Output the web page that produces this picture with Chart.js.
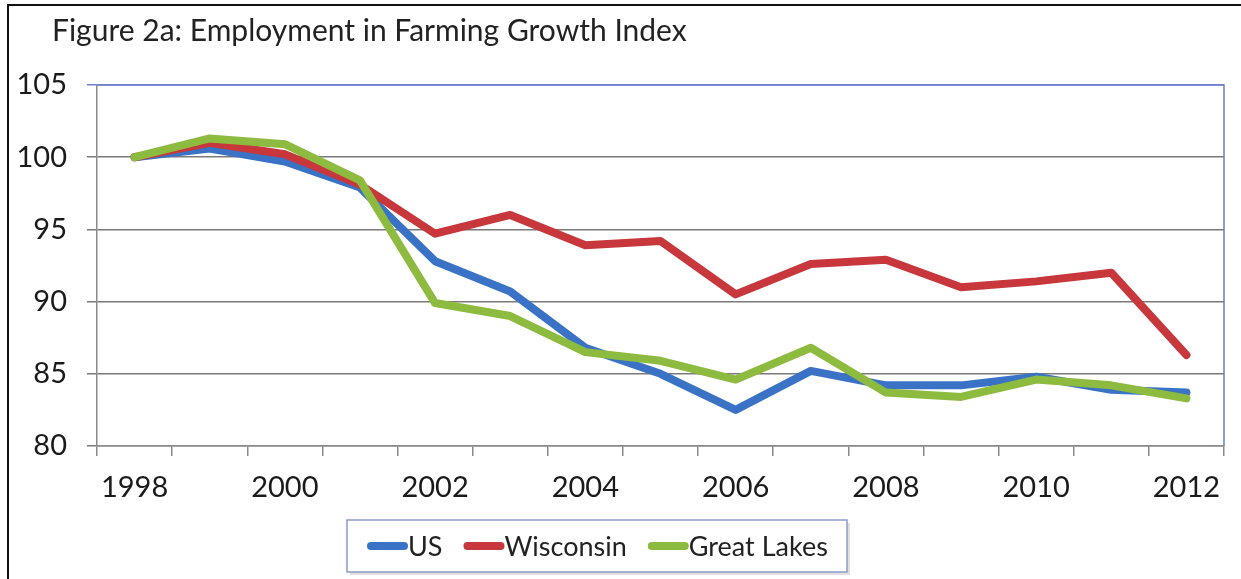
<!DOCTYPE html>
<html>
<head>
<meta charset="utf-8">
<script src="https://cdn.jsdelivr.net/npm/chart.js@4/dist/chart.umd.min.js"></script>
<style>
html,body{margin:0;padding:0;background:#fff;}
#wrap{width:1241px;height:579px;position:relative;}
</style>
</head>
<body>
<div id="wrap"><canvas id="c" width="1241" height="579"></canvas></div>
<script>
const chartTitle = 'Figure 2a: Employment in Farming Growth Index';
const years = ['1998','1999','2000','2001','2002','2003','2004','2005','2006','2007','2008','2009','2010','2011','2012'];
const usValues = [100, 100.6, 99.7, 97.9, 92.8, 90.7, 86.8, 85.0, 82.5, 85.2, 84.2, 84.2, 84.8, 83.9, 83.7];
const wisconsinValues = [100, 101.0, 100.2, 98.1, 94.7, 96.0, 93.9, 94.2, 90.5, 92.6, 92.9, 91.0, 91.4, 92.0, 86.3];
const greatLakesValues = [100, 101.3, 100.9, 98.4, 89.9, 89.0, 86.5, 85.9, 84.6, 86.8, 83.7, 83.4, 84.6, 84.2, 83.3];
const seriesNames = ['US', 'Wisconsin', 'Great Lakes'];
const yTicks = [80, 85, 90, 95, 100, 105];

const FONT = 'Lato, "Open Sans", sans-serif';
const colors = ['#3A73C6', '#C7373B', '#8DBB3F'];

const framePlugin = {
  id: 'frame',
  beforeDraw(chart) {
    const ctx = chart.ctx;
    ctx.save();
    ctx.fillStyle = '#fff';
    ctx.fillRect(0, 0, chart.width, chart.height);
    ctx.restore();
  },
  afterDraw(chart) {
    const ctx = chart.ctx;
    const a = chart.chartArea;
    ctx.save();
    ctx.strokeStyle = '#6F7FCC';
    ctx.lineWidth = 1.5;
    ctx.beginPath();
    ctx.moveTo(a.left, a.top);
    ctx.lineTo(a.right, a.top);
    ctx.lineTo(a.right, a.bottom);
    ctx.stroke();
    ctx.strokeStyle = '#111';
    ctx.lineWidth = 2;
    ctx.beginPath();
    ctx.moveTo(8, chart.height);
    ctx.lineTo(8, 5);
    ctx.lineTo(chart.width, 5);
    ctx.stroke();
    ctx.fillStyle = '#222';
    ctx.font = '30px ' + FONT;
    ctx.textBaseline = 'alphabetic';
    ctx.textAlign = 'left';
    ctx.fillText(chartTitle, 52, 41);
    const bx = 347, by = 520, bw = 500, bh = 52;
    ctx.fillStyle = 'rgba(0,0,0,0.12)';
    ctx.fillRect(bx + 3, by + 3, bw, bh);
    ctx.fillStyle = '#fff';
    ctx.fillRect(bx, by, bw, bh);
    ctx.strokeStyle = '#8A9CC8';
    ctx.lineWidth = 1.5;
    ctx.strokeRect(bx, by, bw, bh);
    ctx.font = '27px ' + FONT;
    ctx.textBaseline = 'middle';
    let x = 368;
    const cy = by + bh / 2;
    chart.data.datasets.forEach((ds) => {
      ctx.strokeStyle = ds.borderColor;
      ctx.lineWidth = 8;
      ctx.lineCap = 'round';
      ctx.beginPath();
      ctx.moveTo(x + 3, cy);
      ctx.lineTo(x + 36, cy);
      ctx.stroke();
      ctx.fillStyle = '#222';
      ctx.fillText(ds.label, x + 40, cy + 1);
      x += 40 + ctx.measureText(ds.label).width + 22;
    });
    ctx.restore();
  }
};

new Chart(document.getElementById('c'), {
  type: 'line',
  data: {
    labels: years,
    datasets: [
      { label: seriesNames[0], data: usValues, borderColor: colors[0], backgroundColor: colors[0], order: 3 },
      { label: seriesNames[1], data: wisconsinValues, borderColor: colors[1], backgroundColor: colors[1], order: 2 },
      { label: seriesNames[2], data: greatLakesValues, borderColor: colors[2], backgroundColor: colors[2], order: 1 }
    ]
  },
  options: {
    responsive: false,
    animation: false,
    devicePixelRatio: 1,
    layout: { padding: { left: 0, top: 85, right: 17, bottom: 73 } },
    elements: {
      line: { borderWidth: 8, tension: 0, borderCapStyle: 'round', borderJoinStyle: 'round', fill: false },
      point: { radius: 0, hoverRadius: 0 }
    },
    plugins: {
      legend: { display: false },
      title: { display: false },
      tooltip: { enabled: false }
    },
    scales: {
      x: {
        type: 'category',
        offset: true,
        afterFit(s) { s.height = 60; },
        grid: { offset: true, drawOnChartArea: false, drawTicks: true, tickLength: 10, color: '#8A8A8A', lineWidth: 1.5 },
        border: { display: true, color: '#8A8A8A', width: 1.5 },
        ticks: {
          autoSkip: false, maxRotation: 0, minRotation: 0, padding: 14,
          color: '#1a1a1a', font: { family: FONT, size: 29 },
          callback(v, i) { return i % 2 === 0 ? years[i] : ''; }
        }
      },
      y: {
        min: yTicks[0], max: yTicks[yTicks.length - 1],
        afterFit(s) { s.width = 97; },
        afterBuildTicks(s) { s.ticks = yTicks.map(v => ({ value: v })); },
        grid: {
          tickLength: 10, lineWidth: 1.5,
          color(ctx) { return ctx.tick && ctx.tick.value === 105 ? '#6F7FCC' : '#7A7A7A'; }
        },
        border: { display: true, color: '#8A8A8A', width: 1.5 },
        ticks: { padding: 20, color: '#1a1a1a', font: { family: FONT, size: 29 } }
      }
    }
  },
  plugins: [framePlugin]
});
</script>
</body>
</html>
